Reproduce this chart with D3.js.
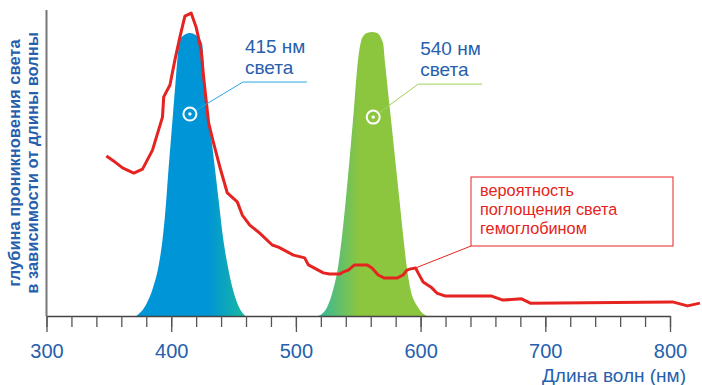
<!DOCTYPE html>
<html>
<head>
<meta charset="utf-8">
<script src="https://cdn.jsdelivr.net/npm/d3@7"></script>
<style>
  body { margin: 0; background: #fff; }
  svg { display: block; font-family: "Liberation Sans", Arial, sans-serif; }
</style>
</head>
<body>
<div id="chart"></div>
<script>
// absorption of light by hemoglobin (red line)
var absWl  = [348, 355, 361, 370, 377, 385, 393, 394, 399, 403, 407, 411, 416, 420, 424, 426, 430, 434, 439, 445,
              453, 457, 463, 471, 481, 486, 498, 507, 510, 522, 527, 535, 538, 542, 547, 557, 561, 566, 571, 581,
              586, 589, 592, 596, 598, 602, 609, 613, 620, 657, 666, 681, 688, 802, 814, 824];
var absVal = [52.3, 50.3, 48.4, 46.7, 48.0, 54.2, 65.0, 71.6, 75.5, 83.7, 91.2, 98.0, 99.0, 94.4, 86.9, 78.1, 63.1, 56.5, 48.7, 40.2,
              37.3, 33.0, 29.7, 27.1, 23.2, 22.5, 19.9, 19.0, 16.7, 14.1, 13.7, 13.7, 14.4, 15.0, 16.7, 16.7, 15.7, 13.4, 12.4, 12.4,
              13.4, 15.0, 15.4, 15.7, 14.1, 11.1, 9.2, 7.5, 6.5, 6.5, 5.2, 5.6, 4.2, 4.6, 3.3, 4.2];

// 415 nm light band
var blueWl  = [372, 380.4, 385.6, 389.7, 393.0, 395.4, 397.8, 400.2, 403.4, 405.7, 408.4, 415.1, 421.5, 424.7, 427.1, 431.7, 435.5, 438.3, 441.5, 445.5, 449.6, 454.4, 459.5];
var blueVal = [0, 4.2, 9.5, 16.0, 24.8, 34.6, 47.7, 59.8, 76.1, 86.9, 91.2, 92.5, 91.2, 89.2, 76.1, 59.8, 46.7, 36.9, 25.8, 16.0, 8.5, 2.9, 0];

// 540 nm light band
var greenWl  = [517.8, 525.0, 529.8, 533.8, 537.8, 541.0, 545.8, 549.8, 553.0, 557.0, 561.0, 565.0, 569.9, 571.5, 576.3, 580.5, 583.3, 586.4, 587.9, 591.5, 597.9, 605.1];
var greenVal = [0, 2.9, 8.5, 16.0, 29.1, 42.2, 64.1, 83.7, 90.8, 92.5, 92.8, 92.5, 89.2, 82.7, 64.1, 47.7, 36.9, 24.8, 19.3, 9.5, 2.9, 0];

var markerWl  = [415, 562];
var markerVal = [66, 65];
var bandLabels = [["415 нм", "света"], ["540 нм", "света"]];

var xTicks = [300, 400, 500, 600, 700, 800];
var calloutLines = ["вероятность", "поглощения света", "гемоглобином"];
var calloutWl = 596;

var width = 702, height = 385;
var svg = d3.select("#chart").append("svg")
    .attr("width", width)
    .attr("height", height);

var x = d3.scaleLinear().domain([300, 800]).range([46.5, 670]);
var y = d3.scaleLinear().domain([0, 100]).range([316, 10]);

var textBlue = "#2660ad";

// gradients
var defs = svg.append("defs");
var gBlue = defs.append("linearGradient").attr("id", "gBlue")
    .attr("gradientUnits", "userSpaceOnUse")
    .attr("x1", x(372)).attr("x2", x(459.5)).attr("y1", 0).attr("y2", 0);
gBlue.append("stop").attr("offset", 0).attr("stop-color", "#0095d6");
gBlue.append("stop").attr("offset", 0.66).attr("stop-color", "#0095d6");
gBlue.append("stop").attr("offset", 1).attr("stop-color", "#1ab8a0");

var gGreen = defs.append("linearGradient").attr("id", "gGreen")
    .attr("gradientUnits", "userSpaceOnUse")
    .attr("x1", x(517.8)).attr("x2", x(605.1)).attr("y1", 0).attr("y2", 0);
gGreen.append("stop").attr("offset", 0).attr("stop-color", "#35b89a");
gGreen.append("stop").attr("offset", 0.38).attr("stop-color", "#8cc63f");
gGreen.append("stop").attr("offset", 1).attr("stop-color", "#8cc63f");

var area = d3.area()
    .x(function (d) { return x(d[0]); })
    .y0(y(0))
    .y1(function (d) { return y(d[1]); })
    .curve(d3.curveMonotoneX);

svg.append("path")
    .datum(d3.zip(blueWl, blueVal))
    .attr("fill", "url(#gBlue)")
    .attr("d", area);

svg.append("path")
    .datum(d3.zip(greenWl, greenVal))
    .attr("fill", "url(#gGreen)")
    .attr("d", area);

// axes
svg.append("line")
    .attr("x1", x(300)).attr("x2", x(300))
    .attr("y1", y(100)).attr("y2", y(0))
    .attr("stroke", "#777").attr("stroke-width", 2);

var minor = svg.append("g")
    .attr("transform", "translate(0," + y(0) + ")")
    .call(d3.axisBottom(x).tickValues(d3.range(300, 801, 20)).tickSize(11).tickSizeOuter(0).tickFormat(""));
minor.select(".domain").attr("stroke", "#444").attr("stroke-width", 1.6);
minor.selectAll(".tick line").attr("stroke", "#555").attr("stroke-width", 1.3);

var major = svg.append("g")
    .attr("transform", "translate(0," + y(0) + ")")
    .call(d3.axisBottom(x).tickValues(xTicks).tickSize(16).tickSizeOuter(0));
major.select(".domain").remove();
major.selectAll(".tick line").attr("stroke", "#555").attr("stroke-width", 1.3);
major.selectAll(".tick text")
    .attr("y", 42).attr("dy", 0)
    .attr("fill", textBlue)
    .style("font-size", "20px")
    .style("font-family", "'Liberation Sans', Arial, sans-serif");

svg.append("text")
    .attr("x", 686).attr("y", 382)
    .attr("text-anchor", "end")
    .attr("fill", textBlue)
    .style("font-size", "19px")
    .text("Длина волн (нм)");

var ylab = svg.append("text")
    .attr("transform", "translate(0,163) rotate(-90)")
    .attr("text-anchor", "middle")
    .attr("fill", textBlue)
    .style("font-size", "16.5px")
    .style("font-weight", "bold");
ylab.append("tspan").attr("x", 0).attr("y", 20).text("глубина проникновения света");
ylab.append("tspan").attr("x", 0).attr("y", 38).text("в зависимости от длины волны");

// hemoglobin absorption line
var line = d3.line()
    .x(function (d) { return x(d[0]); })
    .y(function (d) { return y(d[1]); });

svg.append("path")
    .datum(d3.zip(absWl, absVal))
    .attr("fill", "none")
    .attr("stroke", "#e52421")
    .attr("stroke-width", 3)
    .attr("stroke-linejoin", "round")
    .attr("d", line);

// markers, leader lines and labels of the light bands
var leaderColors = ["#2aa7e0", "#9fd05a"];
var elbow = [[53, -32], [45, -33]];
markerWl.forEach(function (wl, i) {
    var cx = x(wl), cy = y(markerVal[i]);
    var ex = cx + elbow[i][0], ey = cy + elbow[i][1];
    var ang = Math.atan2(ey - cy, ex - cx);
    svg.append("polyline")
        .attr("points", [[cx + 8 * Math.cos(ang), cy + 8 * Math.sin(ang)], [ex, ey], [ex + 64, ey]].join(" "))
        .attr("fill", "none")
        .attr("stroke", leaderColors[i])
        .attr("stroke-width", 1);
    svg.append("circle")
        .attr("cx", cx).attr("cy", cy).attr("r", 6.5)
        .attr("fill", "none").attr("stroke", "#fff").attr("stroke-width", 2);
    svg.append("circle")
        .attr("cx", cx).attr("cy", cy).attr("r", 1.7)
        .attr("fill", "#fff");
    var t = svg.append("text")
        .attr("fill", textBlue)
        .style("font-size", "19px");
    bandLabels[i].forEach(function (s, j) {
        t.append("tspan").attr("x", ex + 2).attr("y", ey - 29 + j * 21).text(s);
    });
});

// hemoglobin callout
var red = "#e52421";
var box = { x: 471, y: 177, w: 202, h: 69 };
var ai = absWl.indexOf(calloutWl);
svg.append("line")
    .attr("x1", x(absWl[ai])).attr("y1", y(absVal[ai]))
    .attr("x2", box.x).attr("y2", box.y + box.h)
    .attr("stroke", red).attr("stroke-width", 1);
svg.append("rect")
    .attr("x", box.x).attr("y", box.y)
    .attr("width", box.w).attr("height", box.h)
    .attr("fill", "#fff").attr("stroke", red).attr("stroke-width", 1);
var ct = svg.append("text").attr("fill", red).style("font-size", "16.3px");
calloutLines.forEach(function (s, j) {
    ct.append("tspan").attr("x", box.x + 9).attr("y", box.y + 19 + j * 19).text(s);
});
</script>
</body>
</html>
